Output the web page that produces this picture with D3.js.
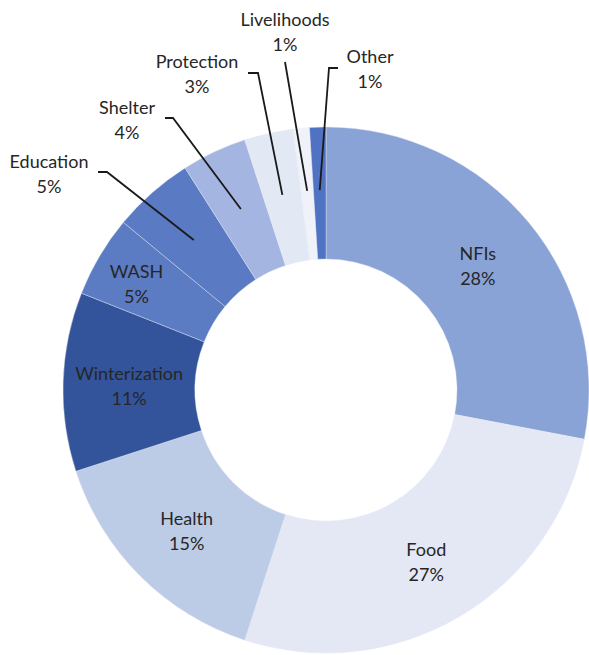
<!DOCTYPE html>
<html>
<head>
<meta charset="utf-8">
<script src="https://cdn.jsdelivr.net/npm/d3@7"></script>
<style>
  body { margin: 0; background: #fff; }
  text { font-family: Lato, "Open Sans", sans-serif; fill: #262626; }
</style>
</head>
<body>
<div id="chart"></div>
<script>
var categories = ["NFIs", "Food", "Health", "Winterization", "WASH", "Education", "Shelter", "Protection", "Livelihoods", "Other"];
var shares = [28, 27, 15, 11, 5, 5, 4, 3, 1, 1];
var colors = ["#8aa3d6", "#e3e8f4", "#bccbe6", "#33549b", "#5b7bc2", "#5a7ac3", "#a3b5e0", "#e3e8f5", "#eff2f9", "#4f72c3"];
// labels drawn outside with a leader line: label centre, elbow, line end
var outside = {
  "Education":   {lx: 49,  ly: 162, ex: 107, ey: 172, tx: 98},
  "Shelter":     {lx: 127, ly: 108, ex: 173, ey: 118, tx: 165},
  "Protection":  {lx: 197, ly: 62,  ex: 258, ey: 73,  tx: 248},
  "Livelihoods": {lx: 285, ly: 20,  ex: 285, ey: 62,  tx: 285},
  "Other":       {lx: 370, ly: 57,  ex: 329, ey: 68,  tx: 338}
};
var nudge = {"WASH": [-20, -8]};

var WIDTH = 589, HEIGHT = 655;
var cx = 326, cy = 390;
var outerR = 263, innerR = 131;

var data = categories.map(function(c, i) { return {name: c, value: shares[i], color: colors[i]}; });

var svg = d3.select("#chart").append("svg")
    .attr("width", WIDTH)
    .attr("height", HEIGHT);

var g = svg.append("g").attr("transform", "translate(" + cx + "," + cy + ")");

var pie = d3.pie().sort(null).value(function(d) { return d.value; });
var arc = d3.arc().innerRadius(innerR).outerRadius(outerR);
var labelArc = d3.arc().innerRadius(200).outerRadius(200);

var arcs = pie(data);

g.selectAll("path.slice")
    .data(arcs)
    .enter().append("path")
    .attr("class", "slice")
    .attr("d", arc)
    .style("fill", function(d) { return d.data.color; })
    .style("stroke", "#e8ecf6")
    .style("stroke-width", 0.4);

// leader lines
g.selectAll("polyline")
    .data(arcs.filter(function(d) { return outside[d.data.name]; }))
    .enter().append("polyline")
    .attr("points", function(d) {
        var o = outside[d.data.name];
        var p = labelArc.centroid(d);
        return [p, [o.ex - cx, o.ey - cy], [o.tx - cx, o.ey - cy]].map(function(q) { return q.join(","); }).join(" ");
    })
    .style("fill", "none")
    .style("stroke", "#1a1a1a")
    .style("stroke-width", 1.8);

var labels = g.selectAll("text.lbl")
    .data(arcs)
    .enter().append("text")
    .attr("class", "lbl")
    .attr("text-anchor", "middle")
    .style("font-size", "18px")
    .attr("transform", function(d) {
        var o = outside[d.data.name];
        var p;
        if (o) p = [o.lx - cx, o.ly - cy + 6];
        else {
            p = arc.centroid(d);
            var n = nudge[d.data.name] || [0, 0];
            p = [p[0] + n[0], p[1] + n[1] - 4];
        }
        return "translate(" + p[0] + "," + p[1] + ")";
    });

labels.append("tspan")
    .attr("x", 0)
    .text(function(d) { return d.data.name; });
labels.append("tspan")
    .attr("x", 0)
    .attr("dy", 25)
    .text(function(d) { return d.data.value + "%"; });
</script>
</body>
</html>
